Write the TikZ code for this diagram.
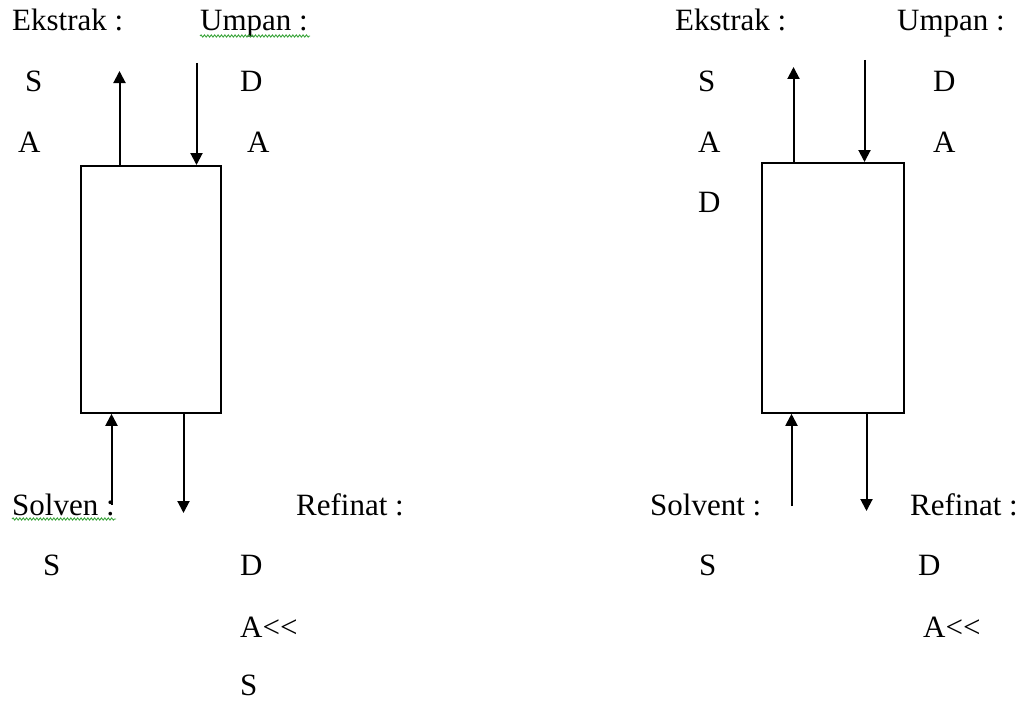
\documentclass[tikz,border=0pt]{standalone}
\usepackage{fontspec}
\setmainfont{Liberation Serif}
\usetikzlibrary{arrows.meta,decorations.pathmorphing}
\definecolor{spellgreen}{RGB}{60,165,60}
\begin{document}
\begin{tikzpicture}[x=1pt,y=-1pt,
  lbl/.style={anchor=base west,inner sep=0pt,font=\fontsize{31}{36}\selectfont},
  col/.style={draw,line width=1.8pt,minimum width=140pt,minimum height=247pt,anchor=north west,inner sep=0pt},
  arr/.style={line width=2pt,-{Triangle[width=12pt,length=12pt]}},
  squiggle/.style={draw=spellgreen,line width=0.9pt,decorate,decoration={snake,amplitude=1.1pt,segment length=3.4pt}}]
\useasboundingbox (0,0) rectangle (1028,701);
% ---- left column ----
\node[col] (c1) at (80,165) {};
\coordinate (e1) at (119.5,71);
\coordinate (u1) at (196.5,63);
\coordinate (s1) at (111.5,505);
\coordinate (r1) at (183.5,513);
\draw[arr] (c1.north -| e1) -- (e1);
\draw[arr] (u1) -- (c1.north -| u1);
\draw[arr] (s1) -- (c1.south -| s1);
\draw[arr] (c1.south -| r1) -- (r1);
\node[lbl] (ek1) at (12,31) {Ekstrak :};
\node[lbl] (um1) at (200,31) {Umpan :};
\node[lbl] (ek1s) at (25,92) {S};
\node[lbl] (ek1a) at (18,152) {A};
\node[lbl] (um1d) at (240,92) {D};
\node[lbl] (um1a) at (247,152) {A};
\node[lbl] (so1) at (12,515) {Solven :};
\node[lbl] (re1) at (296,515) {Refinat :};
\node[lbl] (so1s) at (43,575) {S};
\node[lbl] (re1d) at (240,575) {D};
\node[lbl] (re1a) at (240,637) {A<\kern0pt<};
\node[lbl] (re1s) at (240,695) {S};
\path[squiggle] (200,36) -- (310,36);
\path[squiggle] (12,519) -- (116,519);
% ---- right column ----
\node[col,minimum width=142pt,minimum height=250pt] (c2) at (761,162) {};
\coordinate (e2) at (793.5,67);
\coordinate (u2) at (864.5,60);
\coordinate (s2) at (791.5,506);
\coordinate (r2) at (866.5,511);
\draw[arr] (c2.north -| e2) -- (e2);
\draw[arr] (u2) -- (c2.north -| u2);
\draw[arr] (s2) -- (c2.south -| s2);
\draw[arr] (c2.south -| r2) -- (r2);
\node[lbl] (ek2) at (675,31) {Ekstrak :};
\node[lbl] (um2) at (897,31) {Umpan :};
\node[lbl] (ek2s) at (698,92) {S};
\node[lbl] (ek2a) at (698,152) {A};
\node[lbl] (ek2d) at (698,212) {D};
\node[lbl] (um2d) at (933,92) {D};
\node[lbl] (um2a) at (933,152) {A};
\node[lbl] (so2) at (650,515) {Solvent :};
\node[lbl] (re2) at (910,515) {Refinat :};
\node[lbl] (so2s) at (699,575) {S};
\node[lbl] (re2d) at (918,575) {D};
\node[lbl] (re2a) at (923,637) {A<\kern0pt<};
\end{tikzpicture}
\end{document}
